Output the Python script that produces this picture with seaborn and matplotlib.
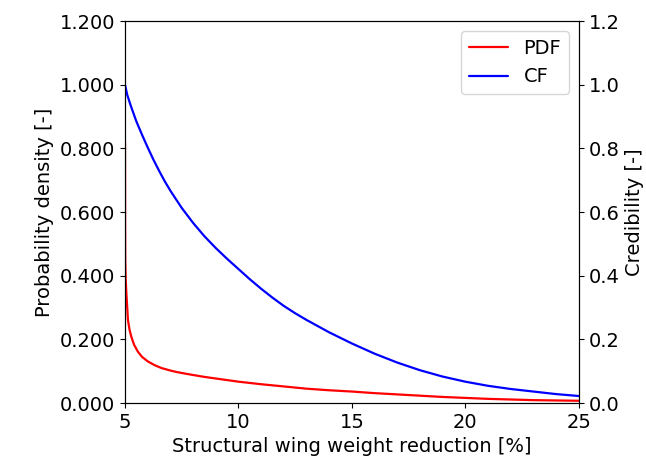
import matplotlib
matplotlib.use("Agg")
import matplotlib.pyplot as plt
import seaborn as sns
import pandas as pd
from matplotlib.ticker import FormatStrFormatter

# Probability density of the structural wing weight reduction
pdf_x = [5.0, 5.005, 5.01, 5.03, 5.06, 5.13, 5.2, 5.28, 5.4, 5.57, 5.75, 6.0, 6.3,
         6.6, 7.0, 7.3, 7.6, 8.0, 8.5, 9.0, 9.5, 10.0, 11.0, 12.0, 13.0, 14.0,
         15.0, 16.0, 17.0, 18.0, 19.0, 20.0, 21.0, 22.0, 23.0, 24.0, 25.0]
pdf_y = [0.82, 0.55, 0.45, 0.39, 0.345, 0.261, 0.230, 0.208, 0.183, 0.161, 0.145,
         0.131, 0.119, 0.110, 0.102, 0.097, 0.093, 0.088, 0.082, 0.077, 0.072,
         0.067, 0.059, 0.052, 0.045, 0.040, 0.036, 0.031, 0.027, 0.023, 0.019,
         0.016, 0.013, 0.011, 0.009, 0.008, 0.007]

# Credibility function
cf_x = [5.0, 5.1, 5.25, 5.5, 5.75, 6.0, 6.25, 6.5, 6.75, 7.0, 7.5, 8.0, 8.5, 9.0,
        9.5, 10.0, 10.5, 11.0, 11.5, 12.0, 12.5, 13.0, 14.0, 15.0, 16.0, 17.0,
        18.0, 19.0, 20.0, 21.0, 22.0, 23.0, 24.0, 25.0]
cf_y = [1.0, 0.968, 0.935, 0.885, 0.843, 0.803, 0.765, 0.730, 0.697, 0.667, 0.613,
        0.566, 0.524, 0.487, 0.453, 0.421, 0.389, 0.359, 0.331, 0.305, 0.282,
        0.261, 0.222, 0.187, 0.155, 0.127, 0.103, 0.083, 0.067, 0.054, 0.044,
        0.036, 0.028, 0.022]

x_ticks = [5, 10, 15, 20, 25]
y_ticks = [0.0, 0.2, 0.4, 0.6, 0.8, 1.0, 1.2]

sns.set_style("ticks")
plt.rcParams["font.family"] = ["DejaVu Sans"]
plt.rcParams["text.color"] = "black"
plt.rcParams["axes.labelcolor"] = "black"
plt.rcParams["xtick.color"] = "black"
plt.rcParams["ytick.color"] = "black"

pdf_df = pd.DataFrame({"x": pdf_x, "y": pdf_y})
cf_df = pd.DataFrame({"x": cf_x, "y": cf_y})

fig = plt.figure(figsize=(6.46, 4.59), dpi=100)
ax = fig.add_axes([0.1935, 0.122, 0.7025, 0.832])
ax2 = ax.twinx()

sns.lineplot(data=pdf_df, x="x", y="y", ax=ax, color="red", lw=1.6,
             label="PDF", legend=False)
sns.lineplot(data=cf_df, x="x", y="y", ax=ax2, color="blue", lw=1.6,
             label="CF", legend=False)

ax.set_xlim(5, 25)
ax.set_xticks(x_ticks)
ax.set_ylim(0, 1.2)
ax.set_yticks(y_ticks)
ax.yaxis.set_major_formatter(FormatStrFormatter("%.3f"))
ax2.set_ylim(0, 1.2)
ax2.set_yticks(y_ticks)
ax2.yaxis.set_major_formatter(FormatStrFormatter("%.1f"))

fs = 14
ax.set_xlabel("Structural wing weight reduction [%]", fontsize=fs)
ax.set_ylabel("Probability density [-]", fontsize=fs)
ax2.set_ylabel("Credibility [-]", fontsize=fs)

for a in (ax, ax2):
    a.tick_params(labelsize=fs, length=3.5, width=0.8, color="black")
    for s in a.spines.values():
        s.set_color("black")
        s.set_linewidth(0.8)

h1, l1 = ax.get_legend_handles_labels()
h2, l2 = ax2.get_legend_handles_labels()
ax2.legend(h1 + h2, l1 + l2, loc="upper right", fontsize=fs, frameon=True)

fig.savefig("out.png", dpi=100)
